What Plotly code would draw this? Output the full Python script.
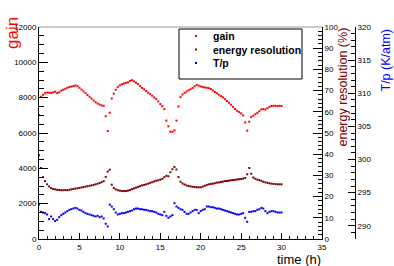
import plotly.graph_objects as go

# ---------------- data ----------------
time_h = [0.0, 0.25, 0.5, 0.75, 1.0, 1.25, 1.5, 1.75, 2.0, 2.25, 2.5, 2.75, 3.0, 3.25, 3.5, 3.75,
          4.0, 4.25, 4.5, 4.75, 5.0, 5.25, 5.5, 5.75, 6.0, 6.25, 6.5, 6.75, 7.0, 7.25, 7.5, 7.75,
          8.0, 8.25, 8.5, 8.75, 9.0, 9.25, 9.5, 9.75, 10.0, 10.25, 10.5, 10.75, 11.0, 11.25, 11.5, 11.75,
          12.0, 12.25, 12.5, 12.75, 13.0, 13.25, 13.5, 13.75, 14.0, 14.25, 14.5, 14.75, 15.0, 15.25, 15.5, 15.75,
          16.0, 16.25, 16.5, 16.75, 17.0, 17.25, 17.5, 17.75, 18.0, 18.25, 18.5, 18.75, 19.0, 19.25, 19.5, 19.75,
          20.0, 20.25, 20.5, 20.75, 21.0, 21.25, 21.5, 21.75, 22.0, 22.25, 22.5, 22.75, 23.0, 23.25, 23.5, 23.75,
          24.0, 24.25, 24.5, 24.75, 25.0, 25.25, 25.5, 25.75, 26.0, 26.25, 26.5, 26.75, 27.0, 27.25, 27.5, 27.75,
          28.0, 28.25, 28.5, 28.75, 29.0, 29.25, 29.5, 29.75, 30.0]

gain = [7020, 8050, 8160, 8250, 8290, 8280, 8270, 8300, 8340, 8260, 8300, 8400, 8450, 8500, 8560, 8600,
        8630, 8660, 8690, 8650, 8560, 8460, 8360, 8260, 8150, 8050, 7950, 7840, 7740, 7670, 7610, 7560,
        7540, 6950, 6110, 7150, 7950, 8230, 8450, 8600, 8700, 8760, 8800, 8840, 8870, 8950, 8990, 8920,
        8850, 8770, 8650, 8550, 8470, 8380, 8280, 8200, 8110, 8010, 7920, 7790, 7640, 7520, 7350, 6700,
        6380, 6080, 6070, 6150, 6700, 7500, 8030, 8180, 8280, 8350, 8420, 8480, 8550, 8640, 8720, 8680,
        8640, 8600, 8580, 8560, 8540, 8490, 8410, 8320, 8250, 8170, 8090, 8020, 7910, 7810, 7710, 7600,
        7480, 7360, 7260, 7190, 7110, 7000, 6600, 6130, 6640, 6900, 6980, 7060, 7130, 7230, 7340, 7350,
        7330, 7400, 7480, 7530, 7540, 7540, 7530, 7540, 7530]

energy_resolution = [39.5, 33.5, 29.2, 27.3, 25.8, 24.8, 24.0, 23.6, 23.4, 23.2, 23.1, 23.0, 23.0, 23.1, 23.0, 23.2,
                     23.4, 23.6, 23.8, 23.9, 24.1, 24.3, 24.5, 24.7, 24.9, 25.1, 25.3, 25.5, 25.8, 26.1, 26.4, 26.8,
                     27.3, 29.3, 31.8, 32.7, 25.6, 24.1, 23.4, 23.0, 22.8, 22.6, 22.6, 22.6, 22.8, 23.1, 23.5, 23.9,
                     24.2, 24.6, 24.9, 25.3, 25.5, 25.8, 26.1, 26.5, 26.8, 27.2, 27.5, 27.7, 28.0, 28.4, 29.2, 29.8,
                     29.6, 31.5, 32.9, 34.0, 32.8, 29.2, 27.0, 26.2, 25.7, 25.3, 25.0, 24.8, 24.6, 24.5, 24.4, 24.4,
                     24.4, 24.7, 25.1, 25.5, 25.8, 26.0, 26.1, 26.3, 26.6, 26.7, 26.9, 27.1, 27.3, 27.4, 27.5, 27.7,
                     27.8, 27.9, 28.1, 28.2, 28.3, 28.5, 28.8, 30.5, 33.5, 30.8, 29.0, 28.4, 28.0, 27.8, 27.4, 27.0,
                     26.7, 26.5, 26.3, 26.1, 26.0, 25.9, 25.8, 25.8, 25.8]

t_over_p = [293.2, 292.1, 292.0, 291.9, 291.7, 291.0, 291.4, 291.0, 290.7, 290.9, 291.3, 291.6, 291.8, 292.0, 292.2, 292.4,
            292.5, 292.6, 292.7, 292.6, 292.4, 292.3, 292.1, 291.9, 291.8, 291.7, 291.6, 291.5, 291.4, 291.5, 291.3, 291.4,
            291.1, 290.3, 289.9, 293.2, 292.9, 292.5, 292.0, 291.7, 291.8, 291.9, 291.9, 292.0, 292.1, 292.2, 292.3, 292.5,
            292.6, 292.6, 292.5, 292.5, 292.4, 292.4, 292.3, 292.2, 292.2, 292.1, 292.0, 291.8, 291.7, 291.6, 292.1, 291.5,
            291.2, 291.4, 291.6, 293.4, 292.9, 292.7, 292.5, 292.4, 292.1, 291.8, 291.8, 292.0, 292.2, 292.4, 292.4, 291.9,
            292.2, 292.4, 292.5, 292.9, 292.9, 292.8, 292.8, 292.7, 292.6, 292.6, 292.5, 292.4, 292.3, 292.2, 292.1, 292.0,
            291.9, 291.8, 291.7, 291.7, 291.8, 291.9, 291.2, 290.6, 292.1, 292.1, 292.2, 292.2, 292.4, 292.5, 292.7, 292.6,
            292.2, 291.9, 292.1, 292.2, 292.2, 292.1, 292.0, 292.0, 292.0]

series_names = ["gain", "energy resolution", "T/p"]
series_colors = ["#ff0000", "#800000", "#0000ff"]

# ---------------- layout geometry (pixels) ----------------
W, H = 394, 266
L, R_PAPER, T, B = 39, 355, 27, 239      # paper spans x 39..355 ; plot frame y 27..239
FRAME_R = 322                             # right edge of the frame (x axis end)
PW, PH = R_PAPER - L, B - T


def px(x):
    return (x - L) / PW


def py(y):
    return (B - y) / PH


FONT = "Liberation Sans, Arial, Helvetica, sans-serif"
MSIZE = 2.0

fig = go.Figure()
fig.add_trace(go.Scatter(x=time_h, y=gain, mode="markers", name=series_names[0],
                         marker=dict(symbol="square", size=MSIZE, color=series_colors[0], line=dict(width=0)),
                         xaxis="x", yaxis="y", showlegend=False))
fig.add_trace(go.Scatter(x=time_h, y=energy_resolution, mode="markers", name=series_names[1],
                         marker=dict(symbol="square", size=MSIZE, color=series_colors[1], line=dict(width=0)),
                         xaxis="x", yaxis="y2", showlegend=False))
fig.add_trace(go.Scatter(x=time_h, y=t_over_p, mode="markers", name=series_names[2],
                         marker=dict(symbol="square", size=MSIZE, color=series_colors[2], line=dict(width=0)),
                         xaxis="x", yaxis="y3", showlegend=False))

tickfont = dict(family=FONT, size=8, color="#000000")

fig.update_layout(
    width=W, height=H,
    margin=dict(l=L, r=W - R_PAPER, t=T, b=H - B, pad=0),
    paper_bgcolor="white", plot_bgcolor="white",
    font=dict(family=FONT, color="black"),
    showlegend=False,
    xaxis=dict(domain=[0, px(FRAME_R)], range=[0, 35], tickmode="linear", tick0=0, dtick=5,
               ticks="inside", ticklen=6, tickcolor="black", tickwidth=1,
               minor=dict(dtick=1, ticks="inside", ticklen=3, tickcolor="black"),
               showline=True, linecolor="black", linewidth=1, showgrid=False, zeroline=False,
               tickfont=tickfont, anchor="y", automargin=False),
    yaxis=dict(range=[0, 12000], tickmode="linear", tick0=0, dtick=2000, tickformat="d",
               ticks="inside", ticklen=9, tickcolor="black",
               minor=dict(dtick=500, ticks="inside", ticklen=4.5, tickcolor="black"),
               showline=True, linecolor="black", linewidth=1, showgrid=False, zeroline=False,
               tickfont=tickfont, anchor="x", automargin=False),
    yaxis2=dict(range=[0, 100], overlaying="y", side="right", anchor="x",
                tickmode="linear", tick0=0, dtick=10, tickformat="d",
                ticks="inside", ticklen=9, tickcolor="black",
                minor=dict(dtick=2, ticks="inside", ticklen=4.5, tickcolor="black"),
                showline=True, linecolor="black", linewidth=1, showgrid=False, zeroline=False,
                tickfont=tickfont, automargin=False),
    yaxis3=dict(range=[288, 320], overlaying="y", side="right", anchor="free", position=1.0,
                tickmode="linear", tick0=290, dtick=5, tickformat="d",
                ticks="inside", ticklen=7, tickcolor="black",
                minor=dict(dtick=1, ticks="inside", ticklen=4, tickcolor="black"),
                showline=True, linecolor="black", linewidth=1, showgrid=False, zeroline=False,
                tickfont=tickfont, automargin=False),
)

# top edge of the frame (grey)
fig.add_shape(type="line", xref="paper", yref="paper", x0=0, x1=px(FRAME_R), y0=1, y1=1,
              line=dict(color="#9a9a9a", width=1.2))

# axis titles
fig.add_annotation(text="gain", xref="paper", yref="paper", x=px(12), y=py(15),
                   xanchor="center", yanchor="top", textangle=-90, showarrow=False,
                   font=dict(family=FONT, size=17, color=series_colors[0]))
fig.add_annotation(text="energy resolution (%)", xref="paper", yref="paper", x=px(343), y=py(26),
                   xanchor="center", yanchor="top", textangle=-90, showarrow=False,
                   font=dict(family=FONT, size=12.5, color=series_colors[1]))
fig.add_annotation(text="T/p (K/atm)", xref="paper", yref="paper", x=px(385), y=py(27),
                   xanchor="center", yanchor="top", textangle=-90, showarrow=False,
                   font=dict(family=FONT, size=12.5, color=series_colors[2]))
fig.add_annotation(text="time (h)", xref="paper", yref="paper", x=px(FRAME_R + 1), y=py(259.5),
                   xanchor="right", yanchor="middle", showarrow=False,
                   font=dict(family=FONT, size=13, color="black"))

# legend box (drawn by hand to match spacing)
fig.add_shape(type="rect", xref="paper", yref="paper", x0=px(179), x1=px(302), y0=py(79), y1=py(29),
              line=dict(color="black", width=1), fillcolor="white", layer="above")
leg_rows = [36, 49.5, 63]
for name, col, yrow in zip(series_names, series_colors, leg_rows):
    fig.add_shape(type="rect", xref="paper", yref="paper",
                  x0=px(195), x1=px(197), y0=py(yrow + 1), y1=py(yrow - 1),
                  line=dict(width=0), fillcolor=col, layer="above")
    fig.add_annotation(text="<b>" + name + "</b>", xref="paper", yref="paper", x=px(211), y=py(yrow),
                       xanchor="left", yanchor="middle", showarrow=False,
                       font=dict(family=FONT, size=10.5, color="black"))

fig.write_html("out.html", config={"displayModeBar": False, "staticPlot": True},
               post_script="document.body.style.margin='0';document.body.style.overflow='hidden';")
